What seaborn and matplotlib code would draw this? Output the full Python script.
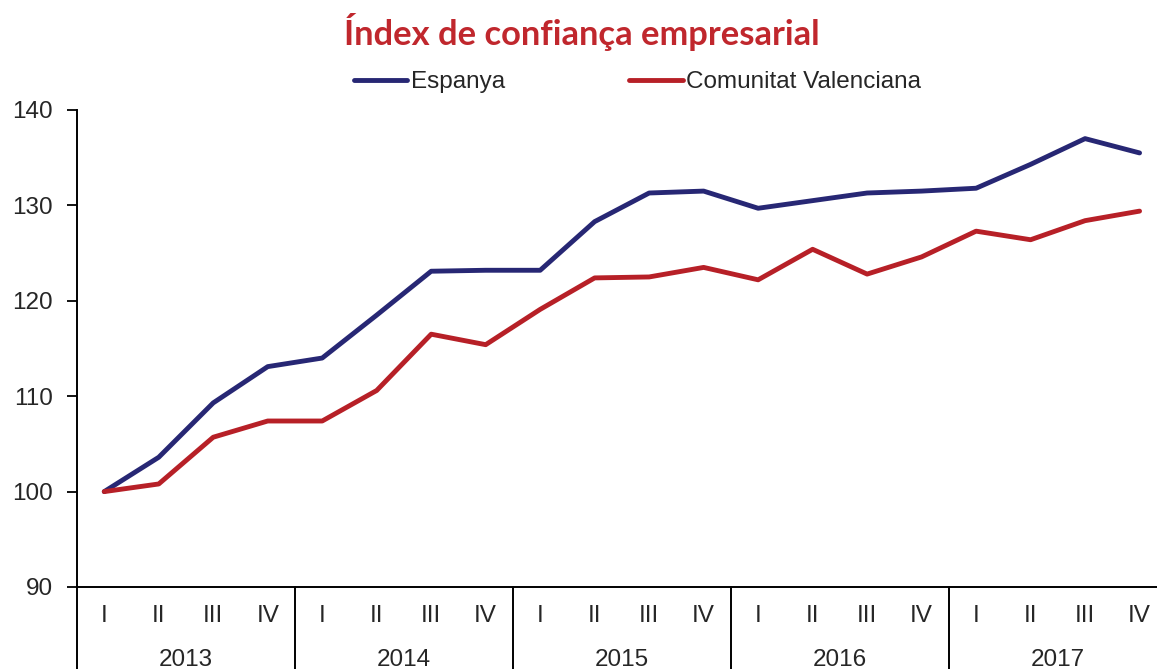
import matplotlib
matplotlib.use("Agg")
import matplotlib.pyplot as plt
import matplotlib.transforms as mtransforms
from matplotlib.lines import Line2D
import seaborn as sns
import pandas as pd

# dades
anys = ["2013", "2014", "2015", "2016", "2017"]
trimestres = ["I", "II", "III", "IV"]
espanya = [100.0, 103.6, 109.3, 113.1, 114.0, 118.5, 123.1, 123.2,
           123.2, 128.3, 131.3, 131.5, 129.7, 130.5, 131.3, 131.5,
           131.8, 134.3, 137.0, 135.5]
valenciana = [100.0, 100.8, 105.7, 107.4, 107.4, 110.6, 116.5, 115.4,
              119.1, 122.4, 122.5, 123.5, 122.2, 125.4, 122.8, 124.6,
              127.3, 126.4, 128.4, 129.4]

n = len(espanya)
df = pd.DataFrame({
    "pos": list(range(n)) * 2,
    "valor": espanya + valenciana,
    "serie": ["Espanya"] * n + ["Comunitat Valenciana"] * n,
})

blau = "#272774"
vermell = "#B72027"

sns.set_style("white")
plt.rcParams["font.family"] = ["Liberation Sans", "DejaVu Sans"]

fig = plt.figure(figsize=(11.57, 6.69), dpi=100)
ax = fig.add_axes([77 / 1157, 82 / 669, 1080 / 1157, 477 / 669])

sns.lineplot(data=df, x="pos", y="valor", hue="serie",
             palette={"Espanya": blau, "Comunitat Valenciana": vermell},
             linewidth=3.5, ax=ax, legend=False)

ax.set_xlim(-0.5, n - 0.68)
ax.set_ylim(90, 140)
ax.set_yticks(range(90, 141, 10))
ax.set_xlabel("")
ax.set_ylabel("")
ax.tick_params(axis="y", which="both", left=True, length=7.5, width=1.3,
               labelsize=17.5, pad=10, color="black")
ax.tick_params(axis="x", bottom=False, labelbottom=False)
for s in ["top", "right"]:
    ax.spines[s].set_visible(False)
for s in ["left", "bottom"]:
    ax.spines[s].set_color("black")
    ax.spines[s].set_linewidth(1.4)

# etiquetes de trimestre i any
trans = mtransforms.blended_transform_factory(ax.transData, ax.transAxes)
for i in range(n):
    ax.text(i, -0.06, trimestres[i % 4], transform=trans, ha="center",
            va="center", fontsize=17.5)
for k, a in enumerate(anys):
    ax.text(4 * k + 1.5, -0.152, a, transform=trans, ha="center",
            va="center", fontsize=17.5)
for k in range(len(anys)):
    ax.plot([4 * k - 0.5, 4 * k - 0.5], [0, -0.2], transform=trans,
            color="black", lw=1.4, clip_on=False)

# llegenda
handles = [Line2D([], [], color=blau, lw=3.5),
           Line2D([], [], color=vermell, lw=3.5)]
fig.legend(handles, ["Espanya", "Comunitat Valenciana"], loc="center",
           bbox_to_anchor=(0.551, 0.877), ncol=2, frameon=False,
           fontsize=17.5, handlelength=2.2, handletextpad=0.15,
           columnspacing=5.1)

fig.text(0.503, 0.952, "Índex de confiança empresarial", ha="center",
         va="center", fontsize=24.8, fontweight="bold", color="#C0272D",
         family=["Lato", "DejaVu Sans"])

fig.savefig("out.png", dpi=100)
